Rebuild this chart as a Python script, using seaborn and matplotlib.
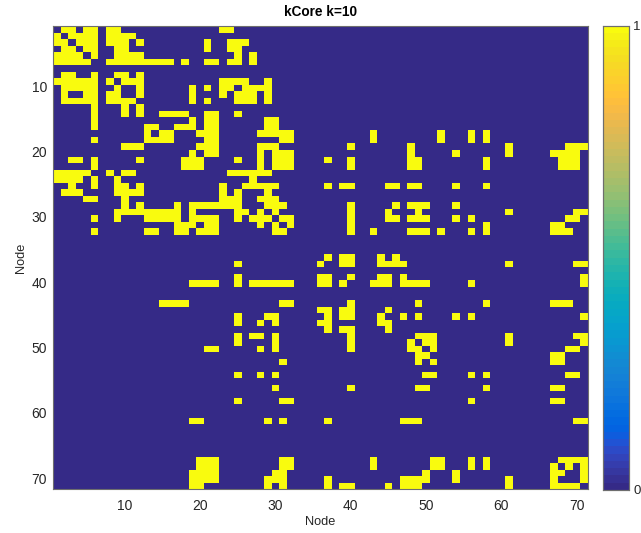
import numpy as np
import matplotlib
matplotlib.use("Agg")
import matplotlib.pyplot as plt
from matplotlib.colors import ListedColormap
import seaborn as sns

title = "kCore k=10"
x_label = "Node"
y_label = "Node"
tick_values = [10, 20, 30, 40, 50, 60, 70]
n_nodes = 71

# columns (1-based) holding a 1, per row of the matrix
row01 = [2,3,5,6,8,9,23,24]
row02 = [1,3,4,5,6,8,9,10,11]
row03 = [1,2,4,5,6,8,9,10,12,21,24,25,26]
row04 = [2,3,5,6,9,10,21,24,25]
row05 = [1,2,3,4,6,9,10,11,12,25,27]
row06 = [1,2,3,4,5,8,9,10,11,12,13,14,15,16,18,21,22,24,25,27]
row08 = [2,3,6,9,10,12]
row09 = [1,2,3,4,5,6,8,10,11,12,23,24,25,26,29]
row10 = [2,3,4,5,6,9,12,19,21,23,24,26,27,28,29]
row11 = [2,5,6,8,9,12,19,23,25,26,27,29]
row12 = [2,3,4,5,6,8,9,10,11,19,21,25,26,27,29]
row13 = [6,10,12]
row14 = [6,10,12,15,16,17,18,21,22,25]
row15 = [6,19,21,22,29,30]
row16 = [6,13,14,17,18,19,21,22,29,30]
row17 = [13,15,16,20,21,22,28,29,30,31,32,43,52,56,58]
row18 = [6,13,14,15,16,21,22,31,32,43,52,56,58]
row19 = [10,11,12,20,21,22,28,29,30,40,48,61,69,70,71]
row20 = [19,21,22,28,30,31,32,48,54,61,67,68,69,70]
row21 = [3,4,6,12,18,19,20,25,28,30,31,32,37,40,48,49,58,68,69,70]
row22 = [6,18,19,20,28,30,31,32,40,48,49,58,68,69,70]
row23 = [1,2,3,4,5,8,10,11,24,25,26,27,28,29]
row24 = [1,2,3,4,6,9,27]
row25 = [3,6,9,10,12,23,26,27,28,29,30,37,39,40,45,46,48,49,54,58]
row26 = [2,3,4,9,10,11,12,23,25,29]
row27 = [5,6,10,23,24,25,28,29,30]
row28 = [10,12,17,19,20,21,22,23,24,25,29,30,31,40,46,48,49,50,54]
row29 = [9,10,11,12,13,14,15,16,17,19,25,26,28,30,40,45,49,61,70,71]
row30 = [6,9,13,14,15,16,17,19,20,21,22,25,27,28,29,31,32,40,45,46,48,49,50,54,56,69,70]
row31 = [17,18,19,21,22,28,30,32,40,58,67,68]
row32 = [6,13,14,17,18,20,21,22,30,31,40,43,48,49,50,52,56,58,67,68,69]
row36 = [37,39,40,44,46]
row37 = [25,36,39,40,44,45,46,47,61,70,71]
row39 = [25,36,37,40,44,45,47,71]
row40 = [19,20,21,22,25,27,28,29,30,31,32,36,37,39,43,44,45,47,48,49,50,56,71]
row43 = [15,16,17,18,31,32,40,49,58,67,68,69]
row44 = [36,37,39,40,45]
row45 = [25,29,30,37,39,40,44,47,49,54,56,71]
row46 = [25,28,30,36,37,44,45]
row47 = [37,39,40,45]
row48 = [25,27,28,30,40,49,50,51,61,70,71]
row49 = [25,30,40,48,50,51,61,71]
row50 = [21,22,28,30,40,48,49,51,69,70]
row51 = [49,50,67,68]
row52 = [31,49,51,67,68]
row54 = [25,28,30,50,51,56,58,69,70]
row56 = [30,40,49,50,58,67,68]
row58 = [25,31,32,56,67,68]
row61 = [19,20,29,31,37,47,48,49,70,71]
row67 = [20,21,22,31,32,43,51,52,56,58,68,69,70,71]
row68 = [20,21,22,31,32,43,51,52,56,58,67,69,71]
row69 = [19,20,21,22,30,31,50,54,67,68,71]
row70 = [19,20,21,22,29,30,31,37,47,48,49,50,54,61,67,71]
row71 = [19,20,29,31,37,39,40,45,47,48,49,61,67,68,69,70]

parula = [
 (.2081,.1663,.5292),(.2116,.1898,.5777),(.2123,.2138,.6270),(.2081,.2386,.6771),
 (.1959,.2645,.7279),(.1707,.2919,.7792),(.1253,.3242,.8303),(.0591,.3598,.8683),
 (.0117,.3875,.8820),(.0060,.4086,.8828),(.0165,.4266,.8786),(.0329,.4430,.8720),
 (.0498,.4586,.8641),(.0629,.4737,.8554),(.0723,.4887,.8467),(.0779,.5040,.8384),
 (.0793,.5200,.8312),(.0749,.5375,.8263),(.0641,.5570,.8240),(.0488,.5772,.8228),
 (.0343,.5966,.8199),(.0265,.6137,.8135),(.0239,.6287,.8038),(.0231,.6418,.7913),
 (.0228,.6535,.7768),(.0267,.6642,.7607),(.0384,.6743,.7436),(.0590,.6838,.7254),
 (.0843,.6928,.7062),(.1133,.7015,.6859),(.1453,.7098,.6646),(.1801,.7177,.6424),
 (.2178,.7250,.6193),(.2586,.7317,.5954),(.3022,.7376,.5712),(.3482,.7424,.5473),
 (.3953,.7459,.5244),(.4420,.7481,.5033),(.4871,.7491,.4840),(.5300,.7491,.4661),
 (.5709,.7485,.4494),(.6099,.7473,.4337),(.6473,.7456,.4188),(.6834,.7435,.4044),
 (.7184,.7411,.3905),(.7525,.7384,.3768),(.7858,.7356,.3633),(.8185,.7327,.3498),
 (.8507,.7299,.3360),(.8824,.7274,.3217),(.9139,.7258,.3063),(.9450,.7261,.2886),
 (.9739,.7314,.2666),(.9938,.7455,.2403),(.9990,.7653,.2164),(.9955,.7861,.1967),
 (.9880,.8066,.1794),(.9789,.8271,.1633),(.9697,.8481,.1475),(.9626,.8705,.1309),
 (.9589,.8949,.1132),(.9598,.9218,.0948),(.9661,.9514,.0755),(.9763,.9831,.0538),
]

sns.set_theme(style="white")
plt.rcParams["font.family"] = ["Liberation Sans", "DejaVu Sans"]
text_color = "#262626"
edge_color = "#6e6e6e"

matrix = np.zeros((n_nodes, n_nodes))
for name, cols in list(globals().items()):
    if name.startswith("row") and len(name) == 5:
        matrix[int(name[3:]) - 1, np.array(cols) - 1] = 1

W, H = 641, 533
fig = plt.figure(figsize=(W / 100, H / 100), dpi=100)
ax = fig.add_axes([53.3 / W, 1 - 489.3 / H, (588 - 53.3) / W, (489.3 - 26) / H])
cax = fig.add_axes([602.7 / W, 1 - 490 / H, (629 - 602.7) / W, (490 - 25.5) / H])

sns.heatmap(matrix, ax=ax, cbar_ax=cax, cmap=ListedColormap(parula), vmin=0, vmax=1,
            square=False, rasterized=False)

positions = [v - 0.5 for v in tick_values]
ax.set_xticks(positions)
ax.set_xticklabels(tick_values, rotation=0)
ax.set_yticks(positions)
ax.set_yticklabels(tick_values, rotation=0)
ax.tick_params(axis="both", which="major", direction="in", length=3.6, width=0.6,
               top=True, right=True, bottom=True, left=True,
               labelsize=10, labelcolor=text_color, color="#262626")
ax.tick_params(axis="x", pad=7)
ax.tick_params(axis="y", pad=4.5)
for sp in ax.spines.values():
    sp.set_visible(True)
    sp.set_linewidth(0.8)
    sp.set_color(edge_color)
ax.set_xlabel(x_label, fontsize=9.2, color=text_color, labelpad=2.5)
ax.set_ylabel(y_label, fontsize=9.2, color=text_color, labelpad=3)
ax.set_title(title, fontsize=9.8, fontweight="bold", color="black", pad=7)

cax.set_yticks([0, 1])
cax.set_yticklabels(["0", "1"])
cax.tick_params(axis="y", length=0, labelsize=9.5, labelcolor=text_color, pad=3)
for sp in cax.spines.values():
    sp.set_visible(True)
    sp.set_linewidth(0.8)
    sp.set_color(edge_color)

fig.savefig("out.png", dpi=100, facecolor="white")
